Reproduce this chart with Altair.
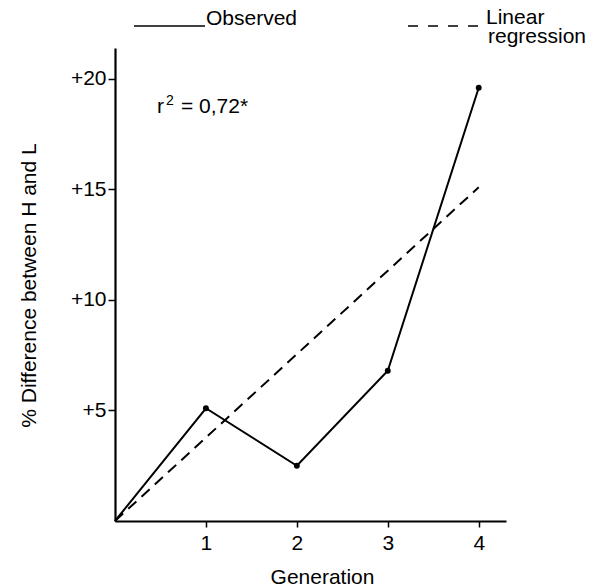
import altair as alt
import pandas as pd

# Data
generation = [0, 1, 2, 3, 4]
observed = [0.0, 5.1, 2.5, 6.8, 19.6]
reg_x = [0, 4]
reg_y = [0.0, 15.1]
y_ticks = [5, 10, 15, 20]
x_ticks = [1, 2, 3, 4]

FONT = "Liberation Sans"
FS = 21

obs_df = pd.DataFrame({"Generation": generation, "Diff": observed})
pts_df = obs_df[obs_df["Generation"] > 0]
reg_df = pd.DataFrame({"Generation": reg_x, "Diff": reg_y})

xscale = alt.Scale(domain=[0, 4.3], nice=False, zero=False)
yscale = alt.Scale(domain=[0, 21.4], nice=False, zero=False)

xaxis = alt.Axis(values=x_ticks, title="Generation", grid=False, format="d",
                 domainColor="black", domainWidth=2.2, tickColor="black",
                 tickWidth=1.5, tickSize=6, labelColor="black", labelFont=FONT,
                 labelFontSize=FS, labelPadding=5, titleFont=FONT, titleFontSize=FS,
                 titleFontWeight="normal", titleColor="black", titleX=207, titleY=62,
                 titleAnchor="middle", titleBaseline="alphabetic", labelFlush=False)
yaxis = alt.Axis(values=y_ticks, title="% Difference between H and L", grid=False,
                 labelExpr="'+' + datum.value",
                 domainColor="black", domainWidth=2.2, tickColor="black",
                 tickWidth=1.5, tickSize=7, labelColor="black", labelFont=FONT,
                 labelFontSize=FS, labelPadding=2, titleFont=FONT, titleFontSize=FS,
                 titleFontWeight="normal", titleColor="black", titleX=-80, titleY=237,
                 titleAnchor="middle", titleAngle=-90, titleBaseline="alphabetic")

line = alt.Chart(obs_df).mark_line(color="black", strokeWidth=2).encode(
    x=alt.X("Generation:Q", scale=xscale, axis=xaxis),
    y=alt.Y("Diff:Q", scale=yscale, axis=yaxis),
)
pts = alt.Chart(pts_df).mark_circle(color="black", size=35, opacity=1).encode(
    x=alt.X("Generation:Q", scale=xscale),
    y=alt.Y("Diff:Q", scale=yscale),
)
reg = alt.Chart(reg_df).mark_line(color="black", strokeWidth=2, strokeDash=[11, 7]).encode(
    x=alt.X("Generation:Q", scale=xscale),
    y=alt.Y("Diff:Q", scale=yscale),
)

def txt(s, x, y, size=FS):
    return alt.Chart(pd.DataFrame({"t": [s]})).mark_text(
        font=FONT, fontSize=size, color="black", align="left", baseline="alphabetic"
    ).encode(text="t:N", x=alt.value(x), y=alt.value(y))

r2_r = txt("r", 42, 65)
r2_sup = txt("2", 51, 57, 14)
r2_rest = txt("= 0,72*", 66, 65)

leg_solid = alt.Chart(pd.DataFrame({"a": [0]})).mark_rule(color="black", strokeWidth=1.5).encode(
    x=alt.value(19), x2=alt.value(90), y=alt.value(-22))
leg_dash = alt.Chart(pd.DataFrame({"a": [0]})).mark_rule(color="black", strokeWidth=1.5, strokeDash=[10, 10]).encode(
    x=alt.value(293), x2=alt.value(369), y=alt.value(-22))
leg_obs = txt("Observed", 91, -23)
leg_lin = txt("Linear", 371, -24)
leg_reg = txt("regression", 373, -5)

chart = alt.layer(reg, line, pts, r2_r, r2_sup, r2_rest,
                  leg_solid, leg_dash, leg_obs, leg_lin, leg_reg).properties(
    width=391, height=473,
    autosize=alt.AutoSizeParams(type="none"),
    padding={"left": 115, "top": 48, "right": 94, "bottom": 67},
).configure(background="white").configure_view(stroke=None)

chart.save("out.html", embed_options={"renderer": "svg", "actions": False})
